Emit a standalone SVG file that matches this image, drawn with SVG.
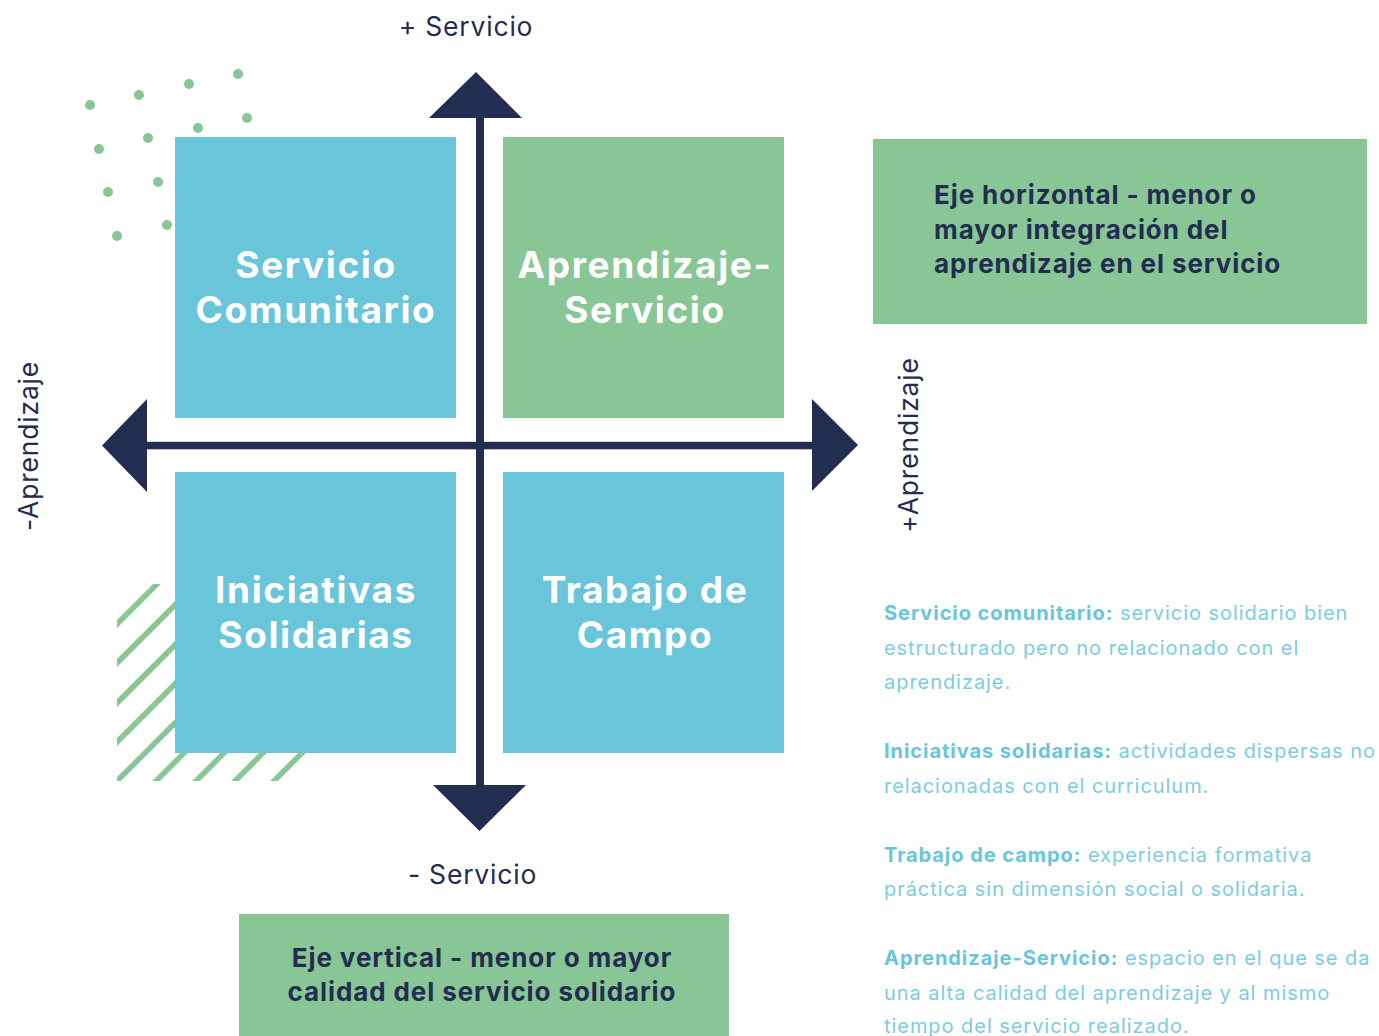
<svg xmlns="http://www.w3.org/2000/svg" width="1379" height="1036" viewBox="0 0 1379 1036">
  <defs>
    <style>
      .navy { fill: #232C51; }
      .blue { fill: #69C5DA; }
      .green { fill: #88C695; }
      .axis-label { font-family: Inter, "Open Sans", sans-serif; font-size: 26.5px; fill: #232C51; letter-spacing: 0.8px; }
      .quad-label { font-family: Inter, "Open Sans", sans-serif; font-size: 37px; font-weight: 700; fill: #FFFFFF; text-anchor: middle; letter-spacing: 1.6px; }
      .box-label { font-family: Inter, "Open Sans", sans-serif; font-size: 26px; font-weight: 700; fill: #232C51; letter-spacing: 0.9px; }
      .desc { font-family: Inter, "Open Sans", sans-serif; font-size: 20px; fill: #7CCDDF; letter-spacing: 0.95px; }
      .desc-b { font-weight: 700; fill: #69C5DA; }
      .dot { fill: #88C695; }
      .hatch { stroke: #88C695; stroke-width: 5.5; fill: none; }
    </style>
    <clipPath id="hatchClip">
      <rect x="117" y="584" width="193" height="197"/>
    </clipPath>
  </defs>

  <rect width="1379" height="1036" fill="#FFFFFF"/>

  <!-- decoration: dots -->
  <g id="dots">
    <circle class="dot" cx="90" cy="105" r="5"/>
    <circle class="dot" cx="139" cy="95" r="5"/>
    <circle class="dot" cx="189" cy="84" r="5"/>
    <circle class="dot" cx="238" cy="74" r="5"/>
    <circle class="dot" cx="99" cy="149" r="5"/>
    <circle class="dot" cx="148" cy="138" r="5"/>
    <circle class="dot" cx="198" cy="128" r="5"/>
    <circle class="dot" cx="247" cy="118" r="5"/>
    <circle class="dot" cx="108" cy="192" r="5"/>
    <circle class="dot" cx="158" cy="182" r="5"/>
    <circle class="dot" cx="117" cy="236" r="5"/>
    <circle class="dot" cx="167" cy="225" r="5"/>
  </g>

  <!-- decoration: hatch -->
  <g id="hatch" clip-path="url(#hatchClip)">
    <line class="hatch" x1="100" y1="641" x2="200" y2="541"/>
    <line class="hatch" x1="100" y1="680" x2="250" y2="530"/>
    <line class="hatch" x1="100" y1="720" x2="300" y2="520"/>
    <line class="hatch" x1="100" y1="759" x2="340" y2="519"/>
    <line class="hatch" x1="100" y1="798" x2="380" y2="518"/>
    <line class="hatch" x1="100" y1="837" x2="400" y2="537"/>
    <line class="hatch" x1="100" y1="877" x2="420" y2="557"/>
    <line class="hatch" x1="100" y1="916" x2="440" y2="576"/>
    <line class="hatch" x1="100" y1="955" x2="460" y2="595"/>
  </g>

  <!-- quadrants -->
  <g id="servicio-comunitario">
    <rect class="blue" x="175" y="137" width="281" height="281"/>
    <text class="quad-label" x="316" y="278">Servicio</text>
    <text class="quad-label" x="316" y="323">Comunitario</text>
  </g>
  <g id="aprendizaje-servicio">
    <rect class="green" x="503" y="137" width="281" height="281"/>
    <text class="quad-label" x="645" y="278">Aprendizaje-</text>
    <text class="quad-label" x="645" y="323">Servicio</text>
  </g>
  <g id="iniciativas-solidarias">
    <rect class="blue" x="175" y="472" width="281" height="281"/>
    <text class="quad-label" x="316" y="603">Iniciativas</text>
    <text class="quad-label" x="316" y="648">Solidarias</text>
  </g>
  <g id="trabajo-de-campo">
    <rect class="blue" x="503" y="472" width="281" height="281"/>
    <text class="quad-label" x="645" y="603">Trabajo de</text>
    <text class="quad-label" x="645" y="648">Campo</text>
  </g>

  <!-- axes -->
  <g id="connectors">
    <rect class="navy" x="476" y="110" width="8" height="680"/>
    <rect class="navy" x="140" y="441.8" width="680" height="7.5"/>
    <polygon class="navy" points="429,118 522,118 476,72"/>
    <polygon class="navy" points="433,785 526,785 479.5,831"/>
    <polygon class="navy" points="812,399 812,491 858,445"/>
    <polygon class="navy" points="147,399 147,492 102,445.5"/>
  </g>

  <!-- axis labels -->
  <g id="axis-labels">
    <text class="axis-label" x="466" y="36" text-anchor="middle">+ Servicio</text>
    <text class="axis-label" x="472.5" y="884" text-anchor="middle">- Servicio</text>
    <text class="axis-label" transform="translate(38,446) rotate(-90)" text-anchor="middle">-Aprendizaje</text>
    <text class="axis-label" transform="translate(918,445) rotate(-90)" text-anchor="middle">+Aprendizaje</text>
  </g>

  <!-- axis explanation boxes -->
  <g id="eje-horizontal">
    <rect class="green" x="873" y="139" width="494" height="185"/>
    <text class="box-label" x="934" y="204">Eje horizontal - menor o</text>
    <text class="box-label" x="934" y="238.5">mayor integración del</text>
    <text class="box-label" x="934" y="273">aprendizaje en el servicio</text>
  </g>
  <g id="eje-vertical">
    <rect class="green" x="239" y="914" width="490" height="122"/>
    <text class="box-label" x="482" y="967" text-anchor="middle">Eje vertical - menor o mayor</text>
    <text class="box-label" x="482" y="1001" text-anchor="middle">calidad del servicio solidario</text>
  </g>

  <!-- descriptions -->
  <g id="descriptions">
    <text class="desc" x="884" y="620"><tspan class="desc-b">Servicio comunitario:</tspan> servicio solidario bien</text>
    <text class="desc" x="884" y="654.5">estructurado pero no relacionado con el</text>
    <text class="desc" x="884" y="689">aprendizaje.</text>
    <text class="desc" x="884" y="758"><tspan class="desc-b">Iniciativas solidarias:</tspan> actividades dispersas no</text>
    <text class="desc" x="884" y="792.5">relacionadas con el curriculum.</text>
    <text class="desc" x="884" y="861.5"><tspan class="desc-b">Trabajo de campo:</tspan> experiencia formativa</text>
    <text class="desc" x="884" y="896">práctica sin dimensión social o solidaria.</text>
    <text class="desc" x="884" y="965"><tspan class="desc-b">Aprendizaje-Servicio:</tspan> espacio en el que se da</text>
    <text class="desc" x="884" y="999.5">una alta calidad del aprendizaje y al mismo</text>
    <text class="desc" x="884" y="1033">tiempo del servicio realizado.</text>
  </g>
</svg>
